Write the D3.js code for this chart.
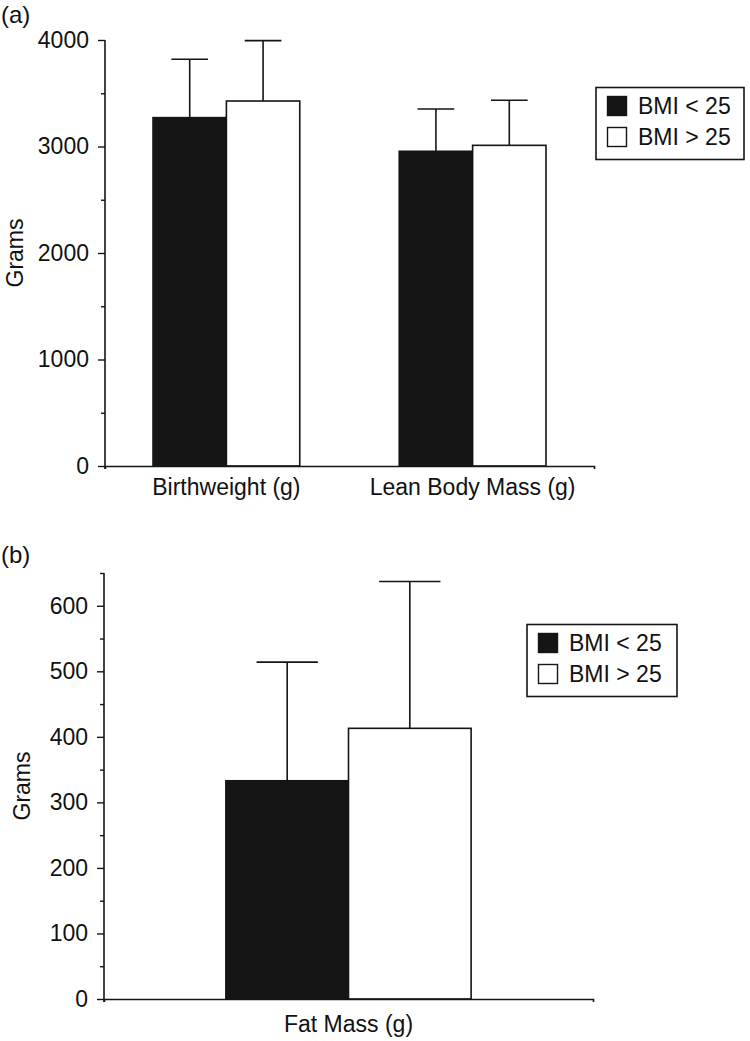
<!DOCTYPE html>
<html>
<head>
<meta charset="utf-8">
<script src="https://cdn.jsdelivr.net/npm/d3@7"></script>
<style>
  html, body { margin: 0; padding: 0; background: #fff; }
  svg { display: block; }
  text { font-family: "Liberation Sans", Arial, Helvetica, sans-serif; fill: #111; }
</style>
</head>
<body>
<svg id="chart" width="750" height="1041"></svg>
<script>
// ---------- data ----------
const seriesNames = ["BMI < 25", "BMI > 25"];

// Panel (a)
const categoriesA = ["Birthweight (g)", "Lean Body Mass (g)"];
const meanLowA  = [3271, 2955];
const errLowA   = [548, 397];
const meanHighA = [3427, 3011];
const errHighA  = [567, 423];
const majorTicksA = [0, 1000, 2000, 3000, 4000];
const minorTicksA = [500, 1500, 2500, 3500];

// Panel (b)
const categoriesB = ["Fat Mass (g)"];
const meanLowB  = [333];
const errLowB   = [181];
const meanHighB = [413];
const errHighB  = [224];
const majorTicksB = [0, 100, 200, 300, 400, 500, 600];
const minorTicksB = [50, 150, 250, 350, 450, 550, 650];

// ---------- drawing ----------
const svg = d3.select("#chart");
const INK = "#151515";
const FS = 23;

function drawPanel(cfg) {
  const g = svg.append("g");
  const y = d3.scaleLinear().domain(cfg.domain).range([cfg.y0, cfg.y1]);
  const x = d3.scaleBand().domain(cfg.categories).range([cfg.x0, cfg.x1])
    .paddingInner(cfg.padInner).paddingOuter(cfg.padOuter);
  const xs = d3.scaleBand().domain(seriesNames).range([0, x.bandwidth()]).padding(0);

  const rows = cfg.categories.map((c, i) => ([
    { cat: c, s: seriesNames[0], v: cfg.low[i], e: cfg.lowErr[i], fill: INK },
    { cat: c, s: seriesNames[1], v: cfg.high[i], e: cfg.highErr[i], fill: "#fff" }
  ])).flat();

  // error bars (behind bars)
  const eb = g.append("g").attr("stroke", INK).attr("stroke-width", 1.6).attr("fill", "none");
  rows.forEach(d => {
    const cx = x(d.cat) + xs(d.s) + xs.bandwidth() / 2;
    const half = xs.bandwidth() / 4;
    eb.append("line").attr("x1", cx).attr("x2", cx).attr("y1", y(d.v)).attr("y2", y(d.v + d.e));
    eb.append("line").attr("x1", cx - half).attr("x2", cx + half).attr("y1", y(d.v + d.e)).attr("y2", y(d.v + d.e));
  });

  // bars
  g.append("g").selectAll("rect").data(rows).join("rect")
    .attr("x", d => x(d.cat) + xs(d.s))
    .attr("y", d => y(d.v))
    .attr("width", xs.bandwidth())
    .attr("height", d => y(0) - y(d.v))
    .attr("fill", d => d.fill)
    .attr("stroke", INK)
    .attr("stroke-width", 1.6);

  // y axis: minor ticks
  g.append("g").attr("transform", `translate(${cfg.x0},0)`)
    .call(d3.axisLeft(y).tickValues(cfg.minor).tickSize(4).tickFormat(""))
    .call(a => a.select(".domain").remove())
    .call(a => a.selectAll("line").attr("stroke", INK).attr("stroke-width", 1.4));

  // y axis: major
  const ya = g.append("g").attr("transform", `translate(${cfg.x0},0)`)
    .call(d3.axisLeft(y).tickValues(cfg.major).tickSize(7).tickSizeOuter(0).tickPadding(9).tickFormat(d3.format("d")));
  ya.select(".domain").attr("stroke", INK).attr("stroke-width", 1.6)
    .attr("d", `M0,${cfg.y0 + 3}V${cfg.y1}`);
  ya.selectAll("line").attr("stroke", INK).attr("stroke-width", 1.4);
  ya.selectAll("text").attr("font-size", FS).attr("font-family", null).style("fill", "#111");

  // x axis
  const xa = g.append("g").attr("transform", `translate(0,${cfg.y0})`)
    .call(d3.axisBottom(x).tickSizeInner(0).tickSizeOuter(3).tickPadding(cfg.labelPad));
  xa.select(".domain").attr("stroke", INK).attr("stroke-width", 1.6);
  xa.selectAll("text").attr("font-size", FS).attr("font-family", null).style("fill", "#111");

  // y title
  g.append("text")
    .attr("transform", `translate(${cfg.titleX},${(cfg.y0 + cfg.y1) / 2}) rotate(-90)`)
    .attr("text-anchor", "middle")
    .attr("font-size", FS)
    .text("Grams");

  // panel label
  g.append("text").attr("x", 1).attr("y", cfg.panelLabelY).attr("font-size", 24).text(cfg.panelLabel);

  // legend
  const lg = g.append("g").attr("transform", `translate(${cfg.legX},${cfg.legY})`);
  lg.append("rect").attr("width", cfg.legW).attr("height", 72)
    .attr("fill", "#fff").attr("stroke", INK).attr("stroke-width", 1.6);
  seriesNames.forEach((s, i) => {
    lg.append("rect").attr("x", 11.5).attr("y", 9 + i * 31).attr("width", 19).attr("height", 19)
      .attr("fill", i === 0 ? INK : "#fff").attr("stroke", INK).attr("stroke-width", 1.4);
    lg.append("text").attr("x", 42).attr("y", 26.5 + i * 31).attr("font-size", FS).text(s);
  });
}

drawPanel({
  categories: categoriesA, low: meanLowA, lowErr: errLowA, high: meanHighA, highErr: errHighA,
  major: majorTicksA, minor: minorTicksA, domain: [0, 4000],
  x0: 105, x1: 594, y0: 466, y1: 40, padInner: 0.404, padOuter: 0.195,
  labelPad: 13, titleX: 22.5, panelLabel: "(a)", panelLabelY: 23,
  legX: 596, legY: 87.5, legW: 148
});

drawPanel({
  categories: categoriesB, low: meanLowB, lowErr: errLowB, high: meanHighB, highErr: errHighB,
  major: majorTicksB, minor: minorTicksB, domain: [0, 650],
  x0: 104, x1: 593, y0: 999, y1: 573, padInner: 0, padOuter: 0.497,
  labelPad: 17, titleX: 30, panelLabel: "(b)", panelLabelY: 563,
  legX: 527, legY: 624.5, legW: 150
});
</script>
</body>
</html>
